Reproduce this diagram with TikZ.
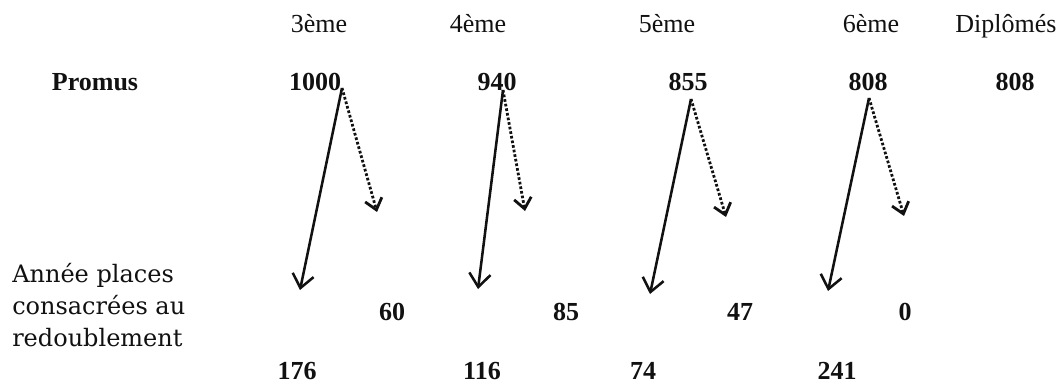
\documentclass[tikz,border=0pt]{standalone}
\usepackage{fontspec}
\setmainfont{Liberation Serif}
\newfontfamily\labelfont{DejaVu Serif}
\usepackage{xcolor}
\usetikzlibrary{arrows.meta}
\definecolor{pen}{HTML}{111111}

\begin{document}
\begin{tikzpicture}[x=0.75pt,y=-0.75pt,
  every node/.style={font=\fontsize{19.5}{23}\selectfont,text=pen,inner sep=0pt,anchor=base},
  num/.style={font=\fontsize{19.5}{23}\selectfont\bfseries},
  flow/.style={pen,line width=1.9pt,-{Straight Barb[length=10pt,width=16pt]}},
  redo/.style={pen,line width=2.1pt,dash pattern=on 2pt off 1.5pt,-{Straight Barb[length=8pt,width=13pt]}}]
  \fill[white] (0,0) rectangle (1062,385);
  \useasboundingbox (0,0) rectangle (1062,385);

  % classes
  \node (c3) at (319,33) {3ème};
  \node (c4) at (478,33) {4ème};
  \node (c5) at (667,33) {5ème};
  \node (c6) at (871,33) {6ème};
  \node (cd) at (1006,33) {Diplômés};

  % promus
  \node[num] (promus) at (95,90) {Promus};
  \node[num] (p3) at (315,90) {1000};
  \node[num] (p4) at (497,90) {940};
  \node[num] (p5) at (688,90) {855};
  \node[num] (p6) at (868,90) {808};
  \node[num] (pd) at (1015,90) {808};

  % redoublants
  \node[num] (r3) at (392,320) {60};
  \node[num] (r4) at (566,320) {85};
  \node[num] (r5) at (740,320) {47};
  \node[num] (r6) at (905,320) {0};

  % places
  \node[font=\labelfont\fontsize{18}{24}\selectfont,align=left,anchor=west] (lbl) at (12,305) {Année places\\consacrées au\\redoublement};
  \node[num] (y3) at (297,379) {176};
  \node[num] (y4) at (482,379) {116};
  \node[num] (y5) at (643,379) {74};
  \node[num] (y6) at (837,379) {241};

  \coordinate (s3) at (342,88);  \coordinate (a3) at (300,290); \coordinate (b3) at (377,212);
  \coordinate (s4) at (503,90);  \coordinate (a4) at (478,289); \coordinate (b4) at (525,211);
  \coordinate (s5) at (691,99);  \coordinate (a5) at (650,294); \coordinate (b5) at (726,217);
  \coordinate (s6) at (869,98);  \coordinate (a6) at (828,291); \coordinate (b6) at (904,216);

  \foreach \k in {3,4,5,6} {
    \draw[flow] (s\k) -- (a\k);
    \draw[redo] (s\k) -- (b\k);
  }
\end{tikzpicture}
\end{document}
